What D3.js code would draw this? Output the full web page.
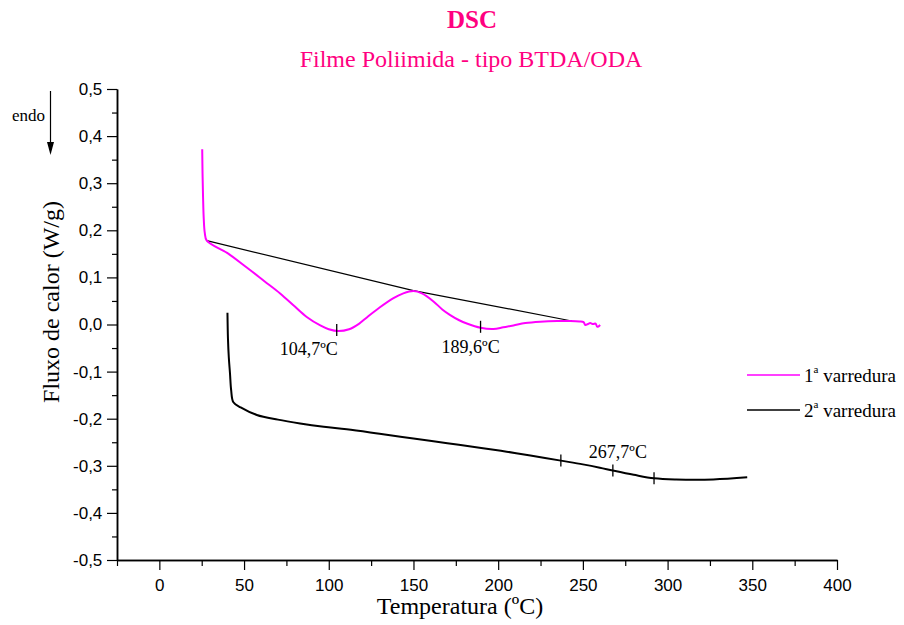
<!DOCTYPE html>
<html><head><meta charset="utf-8">
<script src="https://cdn.jsdelivr.net/npm/d3@7"></script>
<style>body{margin:0;background:#fff}</style>
</head><body>
<script>
// Data
const scan1 = [[25.3,0.372],[25.5,0.32],[25.8,0.27],[26.2,0.225],[26.8,0.195],[28,0.178],[40,0.152],[51.6,0.121],[62,0.092],[71.3,0.066],[80,0.038],[87,0.016],[95,-0.002],[100,-0.010],[105.7,-0.014],[112,-0.010],[118,0.002],[122.5,0.015],[130,0.036],[138.2,0.056],[144,0.066],[150,0.071],[155,0.066],[161.8,0.049],[167,0.032],[171.7,0.020],[177,0.009],[181.5,0.002],[189.6,-0.007],[197.2,-0.0095],[203,-0.006],[209,-0.002],[216,0.003],[224.8,0.006],[235,0.0075],[242.5,0.0075],[248,0.0065],[250.4,0.005],[251.4,-0.001],[253,0.001],[254.3,0.003],[256,0.001],[257.5,0.002],[258.5,-0.005],[260.2,-0.001]];
const baseline1 = [[28,0.178],[150,0.072],[243.5,0.0075]];
const scan2 = [[40.2,0.025],[40.5,-0.03],[41,-0.07],[41.7,-0.104],[42.4,-0.14],[43.7,-0.165],[48,-0.176],[57.5,-0.192],[70,-0.202],[83.1,-0.210],[97,-0.217],[110.6,-0.2225],[130,-0.232],[150,-0.242],[170,-0.252],[190,-0.262],[205,-0.270],[219,-0.278],[237,-0.289],[250,-0.297],[260,-0.304],[267.7,-0.310],[280,-0.319],[292,-0.3265],[305,-0.329],[327,-0.329],[347,-0.3245]];
const markers1 = [[104.7,-0.014],[189.6,-0.007]];
const markers2 = [[237,-0.289],[267.7,-0.310],[292,-0.3265]];
const annotations = [{t:"104,7ºC",x:104.7,y:-0.014,dx:1,dy:24,anchor:"end"},{t:"189,6ºC",x:189.6,y:-0.007,dx:-39,dy:25,anchor:"start"},{t:"267,7ºC",x:267.7,y:-0.310,dx:-24,dy:-13,anchor:"start"}];
const xTicks = [0,50,100,150,200,250,300,350,400];
const yTicks = [-0.5,-0.4,-0.3,-0.2,-0.1,0,0.1,0.2,0.3,0.4,0.5];
const legendItems = [{n:"1",color:"#ff00ff"},{n:"2",color:"#000000"}];

const W=904,H=625;
const svg=d3.select("body").append("svg").attr("width",W).attr("height",H);
const x=d3.scaleLinear().domain([-25,400]).range([117,837]);
const y=d3.scaleLinear().domain([-0.5,0.5]).range([560,89]);
const serif="'Liberation Serif','Times New Roman',serif";
const sans="'Liberation Sans',Arial,sans-serif";

// Titles
svg.append("text").attr("x",472).attr("y",28).attr("text-anchor","middle").attr("font-family",serif).attr("font-weight","bold").attr("font-size",25).attr("fill","#ff0080").text("DSC");
svg.append("text").attr("x",471).attr("y",67).attr("text-anchor","middle").attr("font-family",serif).attr("font-size",24).attr("fill","#ff0080").text("Filme Poliimida - tipo BTDA/ODA");

// Axes
const fmt=v=>(Math.abs(v)<1e-9?"0,0":(v<0?"-":"")+Math.abs(v).toFixed(1).replace(".",","));
const xMinor=d3.range(-25,401,25).filter(v=>!xTicks.includes(v));
const yMinor=d3.range(-0.45,0.5,0.1).map(v=>+v.toFixed(2));
const gx=svg.append("g").attr("transform","translate(0,560)");
gx.call(d3.axisBottom(x).tickValues(xTicks).tickSize(10).tickSizeOuter(0).tickFormat(d3.format("d")));
gx.append("g").call(d3.axisBottom(x).tickValues(xMinor).tickSize(6).tickSizeOuter(0).tickFormat(""));
const gy=svg.append("g").attr("transform","translate(117,0)");
gy.call(d3.axisLeft(y).tickValues(yTicks).tickSize(10).tickSizeOuter(0).tickFormat(fmt));
gy.append("g").call(d3.axisLeft(y).tickValues(yMinor).tickSize(5).tickSizeOuter(0).tickFormat(""));
svg.selectAll(".domain").attr("stroke","#000").attr("stroke-width",1.5);
svg.selectAll(".tick line").attr("stroke","#000").attr("stroke-width",1.2);
gx.selectAll(".tick text").attr("font-family",sans).attr("font-size",17).attr("fill","#000").attr("dy","1.05em");
gy.selectAll(".tick text").attr("font-family",sans).attr("font-size",17).attr("fill","#000").attr("dx","-0.1em");

// Axis labels
svg.append("text").attr("x",460).attr("y",614).attr("text-anchor","middle").attr("font-family",serif).attr("font-size",24).text("Temperatura (ºC)");
svg.append("text").attr("transform","translate(59,302) rotate(-90)").attr("text-anchor","middle").attr("font-family",serif).attr("font-size",24).text("Fluxo de calor (W/g)");

// endo arrow
svg.append("text").attr("x",12).attr("y",121).attr("font-family",serif).attr("font-size",17).text("endo");
svg.append("line").attr("x1",50.5).attr("x2",50.5).attr("y1",91).attr("y2",146).attr("stroke","#000").attr("stroke-width",1.2);
svg.append("path").attr("d","M47,142 L54,142 L50.5,155 Z").attr("fill","#000");

// Curves
const lineLin=d3.line().x(d=>x(d[0])).y(d=>y(d[1]));
const lineSmooth=d3.line().x(d=>x(d[0])).y(d=>y(d[1])).curve(d3.curveCatmullRom);
svg.append("path").datum(baseline1).attr("d",lineLin).attr("fill","none").attr("stroke","#000").attr("stroke-width",1.2);
svg.append("path").datum(scan1).attr("d",lineSmooth).attr("fill","none").attr("stroke","#ff00ff").attr("stroke-width",2);
svg.append("path").datum(scan2).attr("d",lineSmooth).attr("fill","none").attr("stroke","#000").attr("stroke-width",2);

// markers
markers1.forEach(m=>svg.append("line").attr("x1",x(m[0])).attr("x2",x(m[0])).attr("y1",y(m[1])-7).attr("y2",y(m[1])+5).attr("stroke","#000").attr("stroke-width",1.3));
markers2.forEach(m=>svg.append("line").attr("x1",x(m[0])).attr("x2",x(m[0])).attr("y1",y(m[1])-6).attr("y2",y(m[1])+6).attr("stroke","#000").attr("stroke-width",1.3));
annotations.forEach(a=>svg.append("text").attr("x",x(a.x)+a.dx).attr("y",y(a.y)+a.dy).attr("text-anchor",a.anchor).attr("font-family",serif).attr("font-size",18).text(a.t));

// Legend
legendItems.forEach((d,i)=>{
  const ly=375+i*35;
  svg.append("line").attr("x1",747).attr("x2",800).attr("y1",ly).attr("y2",ly).attr("stroke",d.color).attr("stroke-width",1.6);
  const t=svg.append("text").attr("x",804).attr("y",ly+7).attr("font-family",serif).attr("font-size",19);
  t.append("tspan").text(d.n);
  t.append("tspan").attr("font-size",11).attr("dy",-9).text("a");
  t.append("tspan").attr("dy",9).text(" varredura");
});
</script>
</body></html>
